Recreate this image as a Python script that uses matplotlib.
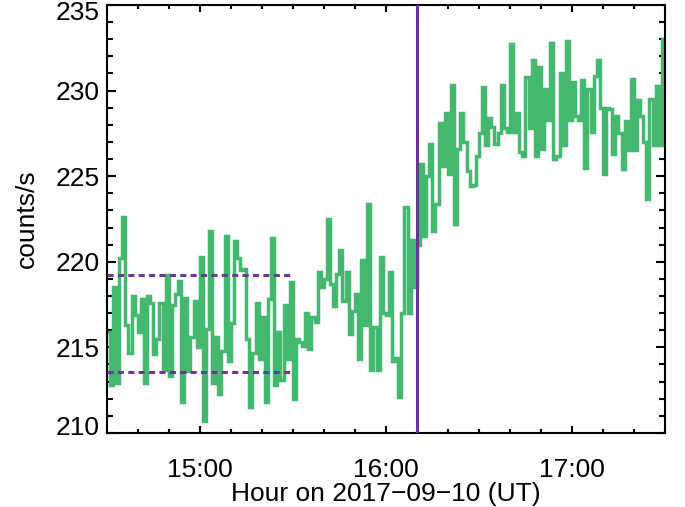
import matplotlib
matplotlib.use("Agg")
import matplotlib.pyplot as plt
import numpy as np
from matplotlib.ticker import MultipleLocator, FixedLocator, FuncFormatter
from matplotlib.transforms import ScaledTranslation

# ---- data ----
start_hour = 14.5          # first bin starts at 14:30 UT
bin_minutes = 1.0          # 1-minute bins
counts = [
    215.9, 212.8, 218.5, 212.9, 220.2, 222.6, 216.3, 214.7, 218.0, 216.9,
    215.9, 217.8, 212.9, 218.0, 217.6, 214.6, 215.5, 217.6, 213.7, 219.2,
    213.3, 217.5, 218.1, 218.9, 211.8, 217.9, 213.6, 215.6, 217.7, 215.0,
    220.3, 210.7, 216.1, 221.8, 212.9, 215.6, 212.3, 214.8, 221.5, 214.2,
    216.4, 221.2, 220.2, 219.5, 219.6, 215.5, 211.5, 214.7, 217.6, 214.3,
    216.8, 211.8, 217.8, 221.4, 212.8, 215.9, 213.1, 217.5, 214.3, 218.8,
    212.0, 215.5, 215.3, 215.1, 217.0, 214.9, 216.8, 216.5, 219.4, 218.5,
    219.0, 222.5, 218.7, 217.4, 219.3, 220.7, 217.7, 219.4, 215.8, 217.1,
    218.1, 214.3, 220.1, 216.3, 223.4, 213.7, 216.2, 213.7, 220.3, 217.0,
    216.9, 219.4, 214.2, 214.4, 212.1, 217.0, 223.2, 217.0, 221.3, 218.5,
    221.0, 225.7, 221.5, 225.0, 226.9, 221.8, 223.4, 228.1, 225.6, 228.7,
    225.1, 230.3, 222.2, 226.6, 228.7, 227.0, 225.3, 224.4, 224.5, 226.2,
    227.5, 230.2, 226.8, 228.4, 227.9, 226.9, 227.5, 230.3, 227.8, 227.6,
    232.7, 227.6, 228.7, 226.4, 226.2, 230.8, 227.8, 231.8, 226.2, 231.4,
    226.6, 230.1, 228.3, 232.8, 226.0, 226.2, 231.0, 226.8, 232.9, 228.3,
    230.5, 228.5, 228.3, 230.6, 225.5, 230.1, 227.6, 230.85, 231.8, 229.0,
    225.1, 229.0, 228.9, 226.3, 228.5, 227.5, 225.4, 228.2, 226.5, 230.7,
    226.5, 229.45, 228.5, 227.0, 223.65, 229.5, 226.8, 230.25, 226.8, 233.0,
]
event_hour = 16 + 10 / 60          # vertical marker at 16:10
bg_levels = [219.2, 213.55]        # dashed background band
bg_end_hour = 15 + 29 / 60
x_limits = [14.5, 17.5]
y_limits = [210, 235]
x_major = [15, 16, 17]
xlabel = "Hour on 2017\u221209\u221210 (UT)"
ylabel = "counts/s"

# ---- style ----
plt.rcParams['font.family'] = ['Liberation Sans', 'DejaVu Sans']
green = '#44B86F'
purple = '#663399'
fs = 19

fig = plt.figure(figsize=(6.85, 5.07), dpi=100)
ax = fig.add_axes([0.1558, 0.146, 0.8150, 0.8442])

edges = start_hour + np.arange(len(counts) + 1) * bin_minutes / 60.0
ax.stairs(counts, edges, baseline=None, color=green, lw=2.5, zorder=2)
ax.axvline(event_hour, color=purple, lw=2.2, zorder=4)
ax.hlines(bg_levels, start_hour, bg_end_hour, colors='#6B3A90', lw=2.2,
          linestyles=[(0, (2.0, 1.4))], zorder=3)

ax.set_xlim(*x_limits)
ax.set_ylim(*y_limits)

ax.xaxis.set_major_locator(FixedLocator(x_major))
ax.xaxis.set_minor_locator(MultipleLocator(10 / 60))
ax.xaxis.set_major_formatter(FuncFormatter(lambda v, p: f"{int(round(v)):d}:00"))
ax.yaxis.set_major_locator(MultipleLocator(5))
ax.yaxis.set_minor_locator(MultipleLocator(1))

for s in ax.spines.values():
    s.set_linewidth(1.5)

ax.tick_params(axis='both', which='both', direction='in', top=True, right=True,
               width=1.5, labelsize=fs)
ax.tick_params(axis='x', which='major', length=5.2, pad=18)
ax.tick_params(axis='x', which='minor', length=2.8)
ax.tick_params(axis='y', which='major', length=6.5, pad=5)
ax.tick_params(axis='y', which='minor', length=4.1)

ax.set_xlabel(xlabel, fontsize=fs, labelpad=0)
ax.set_ylabel(ylabel, fontsize=fs, labelpad=12)

# nudge the end labels inward as in the reference
fig.canvas.draw()
for tick in ax.yaxis.get_major_ticks():
    loc = tick.get_loc()
    if abs(loc - y_limits[1]) < 1e-6:
        tick.label1.set_transform(tick.label1.get_transform() +
                                  ScaledTranslation(0, -0.06, fig.dpi_scale_trans))
    elif abs(loc - y_limits[0]) < 1e-6:
        tick.label1.set_transform(tick.label1.get_transform() +
                                  ScaledTranslation(0, 0.07, fig.dpi_scale_trans))

fig.savefig("out.png", dpi=100)
